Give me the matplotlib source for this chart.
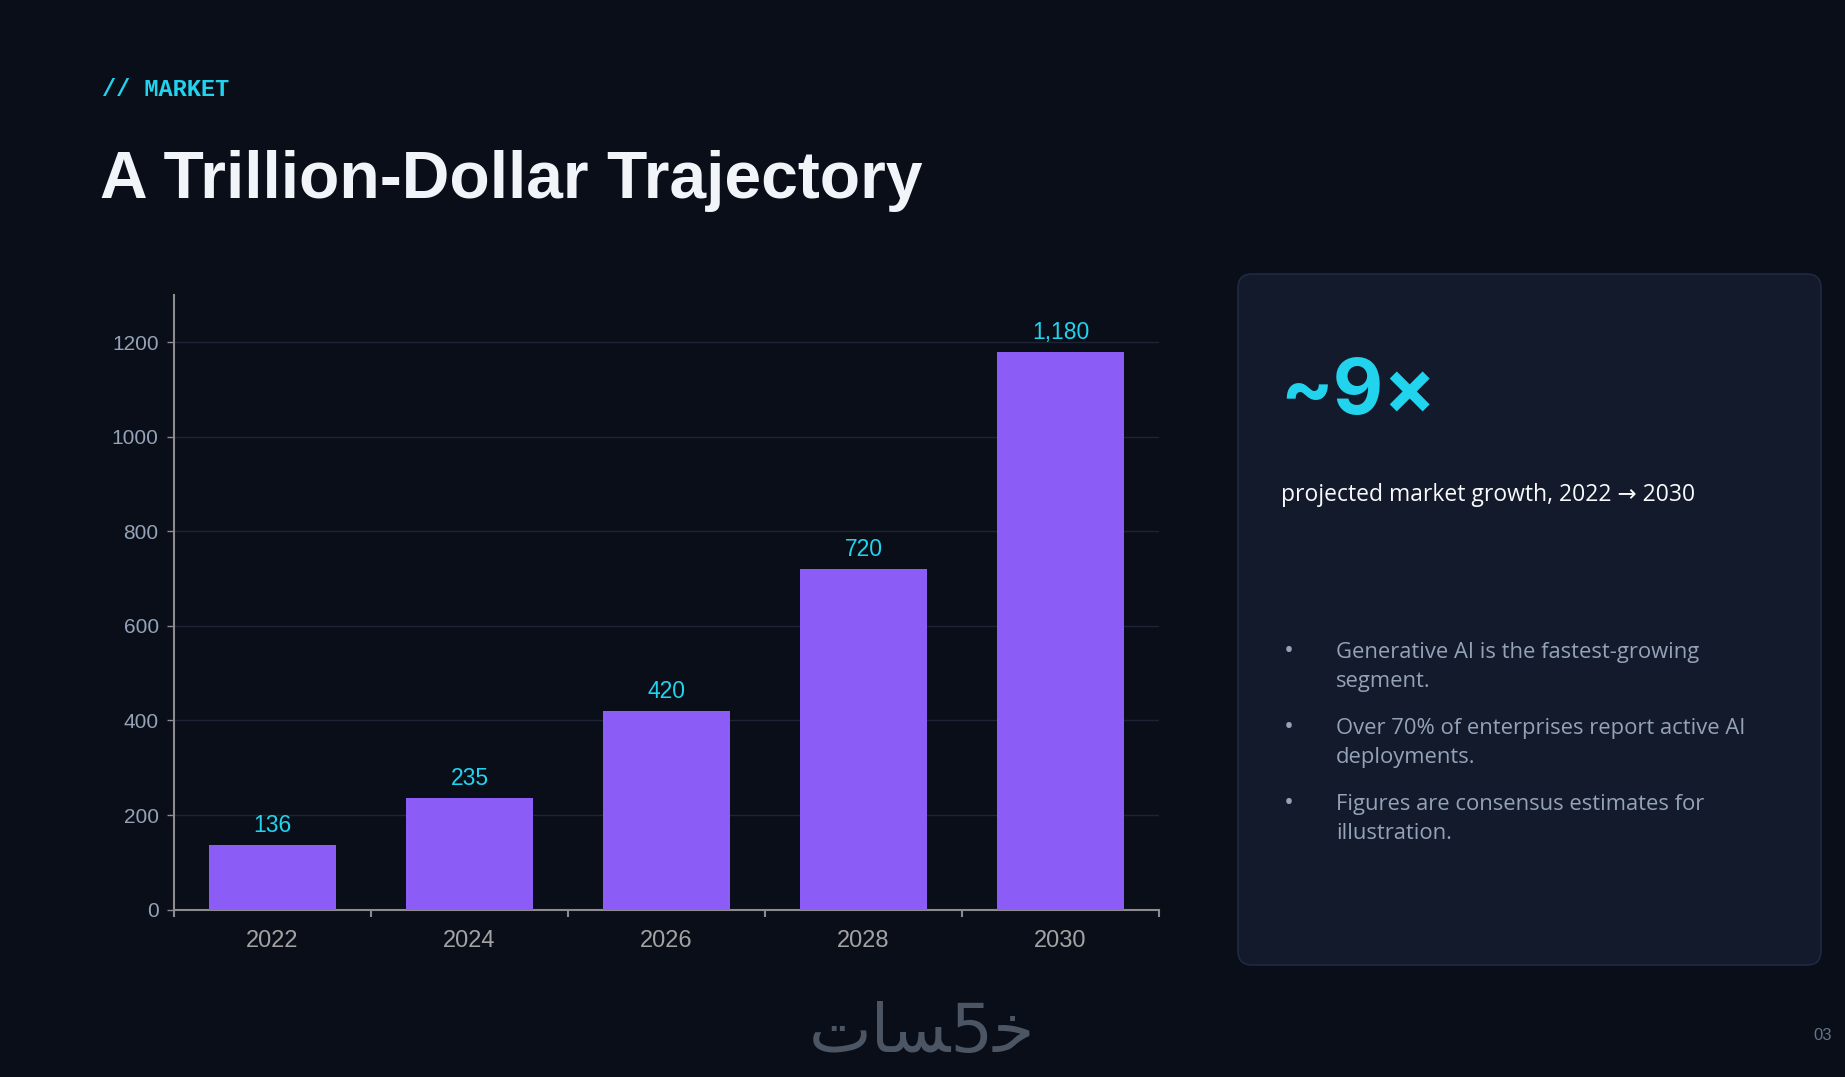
import matplotlib
matplotlib.use("Agg")
import matplotlib.pyplot as plt
from matplotlib.patches import FancyBboxPatch

# chart data
years = ["2022", "2024", "2026", "2028", "2030"]
market = [136, 235, 420, 720, 1180]
value_labels = ["136", "235", "420", "720", "1,180"]
y_ticks = [0, 200, 400, 600, 800, 1000, 1200]

# slide texts
eyebrow = "// MARKET"
title = "A Trillion-Dollar Trajectory"
big_stat = "~9×"
stat_caption = "projected market growth, 2022 → 2030"
bullets = [
    ["Generative AI is the fastest-growing", "segment."],
    ["Over 70% of enterprises report active AI", "deployments."],
    ["Figures are consensus estimates for", "illustration."],
]
# خمسات logo, written in visual order with presentation forms
logo = "\ufe95\ufe8e\ufeb4" + "5" + "\ufea7"
page_no = "03"

BG = "#0a0e18"
CARD = "#131a2b"
CYAN = "#22d3ee"
PURPLE = "#8b5cf6"
AXIS = "#8c8c8c"

plt.rcParams['font.family'] = ['Liberation Sans', 'DejaVu Sans']

W, H = 1845, 1077
fig = plt.figure(figsize=(W / 100, H / 100), dpi=100, facecolor=BG)

# full-page layer in pixel coordinates
bg = fig.add_axes([0, 0, 1, 1])
bg.set_xlim(0, W)
bg.set_ylim(H, 0)
bg.axis("off")
bg.set_zorder(0)

bg.text(102, 96, eyebrow, family=['Liberation Mono', 'DejaVu Sans Mono'],
        weight='bold', fontsize=17, color=CYAN, va='baseline')
bg.text(100, 198, title, fontsize=47.5, weight='bold', color='#f1f5f9', va='baseline')

card = FancyBboxPatch((1238, 274), 583, 691, boxstyle="round,pad=0,rounding_size=14",
                      fc=CARD, ec="#1f2942", lw=1.2)
bg.add_patch(card)

bg.text(1280, 414, big_stat, family=['Inter', 'DejaVu Sans'], weight='bold',
        fontsize=56, color=CYAN, va='baseline')
bg.text(1281, 501, stat_caption, family=['Open Sans', 'DejaVu Sans'],
        fontsize=16.5, color='#f8fafc', va='baseline')

for k, lines in enumerate(bullets):
    y0 = 658 + k * 76
    bg.text(1284, y0, "•", family=['Open Sans', 'DejaVu Sans'], fontsize=19,
            color='#94a3b8', va='baseline')
    for j, line in enumerate(lines):
        bg.text(1336, y0 + j * 29.4, line, family=['Open Sans', 'DejaVu Sans'],
                fontsize=15.8, color='#94a3b8', va='baseline')

bg.text(922, 1052, logo, family=['DejaVu Sans'], fontsize=48, color='#4b5563',
        ha='center', va='baseline')
bg.text(1832, 1040, page_no, fontsize=12, color='#64748b', ha='right', va='baseline')

# bar chart
ax = fig.add_axes([174 / W, 1 - 909.6 / H, (1159 - 174) / W, (909.6 - 295) / H])
ax.set_zorder(1)
ax.patch.set_alpha(0)

x = list(range(len(years)))
ax.bar(x, market, width=0.64, color=PURPLE, zorder=3)
for i, (v, lab) in enumerate(zip(market, value_labels)):
    ax.annotate(lab, (i, v), xytext=(0, 9.5), textcoords='offset points',
                ha='center', va='baseline', color=CYAN, fontsize=16.5)

ax.set_xlim(-0.5, len(years) - 0.5)
ax.set_ylim(0, 1300)
ax.set_xticks(x)
ax.set_xticklabels(years)
ax.set_xticks([i - 0.5 for i in range(len(years) + 1)], minor=True)
ax.set_yticks(y_ticks)

ax.tick_params(axis='x', which='major', length=0, pad=15, labelsize=17, labelcolor='#a3a3a3')
ax.tick_params(axis='x', which='minor', length=5, width=1.5, color=AXIS, direction='out')
ax.tick_params(axis='y', length=5, width=1, color=AXIS, pad=6, labelsize=15, labelcolor='#94a3b8')

ax.yaxis.grid(True, color='#1c2436', lw=1)
ax.set_axisbelow(True)
for s in ['top', 'right']:
    ax.spines[s].set_visible(False)
for s in ['left', 'bottom']:
    ax.spines[s].set_color(AXIS)
    ax.spines[s].set_linewidth(1.5)

fig.savefig("out.png", dpi=100, facecolor=BG)
